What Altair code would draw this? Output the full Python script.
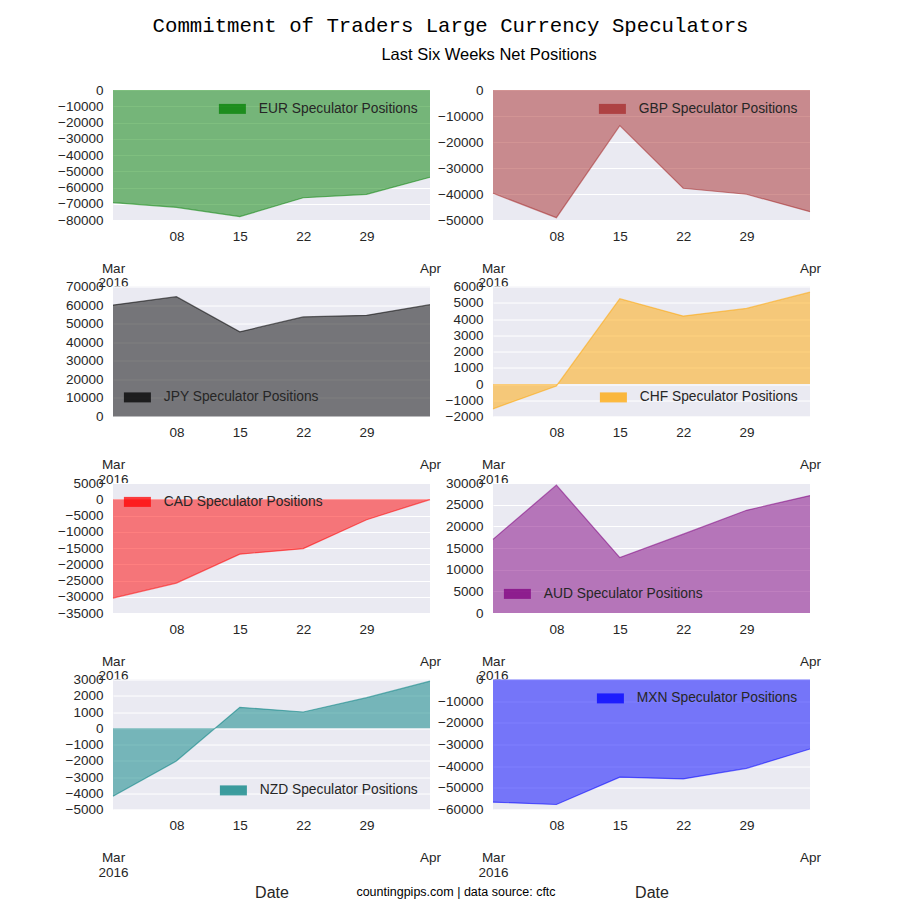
import altair as alt
import pandas as pd

# ---- data ----
dates = ["2016-03-01", "2016-03-08", "2016-03-15", "2016-03-22", "2016-03-29", "2016-04-05"]
currencies = ["EUR", "GBP", "JPY", "CHF", "CAD", "AUD", "NZD", "MXN"]
eur = [-69300, -72200, -77900, -66300, -64200, -53700]
gbp = [-39700, -49100, -13700, -37800, -40100, -46800]
jpy = [60000, 64500, 45600, 53600, 54500, 60200]
chf = [-1530, -120, 5250, 4180, 4650, 5650]
cad = [-30400, -25800, -16900, -15200, -6300, -100]
aud = [17000, 29500, 12800, 18200, 23700, 27100]
nzd = [-4180, -2020, 1290, 1000, 1880, 2900]
mxn = [-56600, -57700, -45100, -45900, -41000, -32100]
series_values = [eur, gbp, jpy, chf, cad, aud, nzd, mxn]
colors = ["green", "brown", "black", "orange", "red", "purple", "teal", "blue"]
y_ranges = [(-80000, 0, 10000), (-50000, 0, 10000), (0, 70000, 10000), (-2000, 6000, 1000),
            (-35000, 5000, 5000), (0, 30000, 5000), (-5000, 3000, 1000), (-60000, 0, 10000)]
legend_corners = ["top-right", "top-right", "bottom-left", "bottom-right",
                  "top-left", "bottom-left", "bottom-right", "top-right"]
minor_days = [(3, 8), (3, 15), (3, 22), (3, 29)]
major_days = [(3, 1), (4, 5)]
main_title = "Commitment of Traders Large Currency Speculators"
sub_title = "Last Six Weeks Net Positions"
footer = "countingpips.com | data source: cftc"

SANS = "Liberation Sans"
TXT = "#262626"
W, H = 317, 130

minor_vals = [alt.DateTime(year=2016, month=m, date=d, utc=True) for m, d in minor_days]
major_vals = [alt.DateTime(year=2016, month=m, date=d, utc=True) for m, d in major_days]
x_scale = alt.Scale(type="utc", domain=major_vals, nice=False)


def panel(i, bottom):
    cur = currencies[i]
    lo, hi, step = y_ranges[i]
    df = pd.DataFrame({"date": dates, "value": series_values[i],
                       "series": [cur + " Speculator Positions"] * len(dates)})
    common = dict(orient="bottom", labelFlush=False, labelOverlap=False, domain=False,
                  ticks=False, grid=False, labelFont=SANS, labelFontSize=13.5,
                  labelColor=TXT)
    x_minor = alt.X("date:T", scale=x_scale, title=None,
                    axis=alt.Axis(values=minor_vals,
                                  labelExpr="utcFormat(datum.value, '%d')",
                                  labelPadding=9, **common))
    xkw = {"title": "Date"} if bottom else {"title": None}
    x_major = alt.X("date:T", scale=x_scale,
                    axis=alt.Axis(values=major_vals,
                                  labelExpr="utcmonth(datum.value) == 2 ? ['Mar', '2016'] : 'Apr'",
                                  labelPadding=41, labelLineHeight=14.5,
                                  titleFont=SANS, titleFontSize=16, titleFontWeight="normal",
                                  titleColor=TXT, titlePadding=6, **common),
                    **xkw)
    y = alt.Y("value:Q",
              scale=alt.Scale(domain=[lo, hi], nice=False, zero=False),
              axis=alt.Axis(values=list(range(lo, hi + 1, step)), format="d",
                            labelPadding=10, ticks=False, domain=False, grid=True,
                            gridColor="white", gridWidth=1, labelFont=SANS,
                            labelFontSize=13.5, labelColor=TXT, labelFlush=False,
                            labelOverlap=False),
              title=None)
    base = alt.Chart(df)
    area = base.mark_area(fillOpacity=0.5, strokeWidth=0).encode(
        x=x_minor, y=y, y2=alt.datum(0),
        color=alt.Color("series:N", scale=alt.Scale(range=[colors[i]]),
                        legend=alt.Legend(title=None, orient=legend_corners[i], offset=12,
                                          padding=0, symbolType="M-1.6,-1H3.8V1H-1.6Z",
                                          symbolSize=100, symbolStrokeWidth=0,
                                          symbolOpacity=0.75, labelOffset=25,
                                          labelLimit=400, labelFont=SANS,
                                          labelFontSize=13.8, labelColor=TXT)))
    line = base.mark_line(color=colors[i], strokeOpacity=0.55, strokeWidth=1.2).encode(
        x=x_major, y=y)
    layers = [area, line]
    if bottom and i == 6:
        foot = alt.Chart(pd.DataFrame({"t": [footer]})).mark_text(
            font=SANS, fontSize=12.5, color="black", align="center", baseline="middle"
        ).encode(text="t:N", x=alt.value(343), y=alt.value(212))
        layers.append(foot)
    return alt.layer(*layers).resolve_axis(x="independent").properties(width=W, height=H)


panels = [panel(i, i >= 6) for i in range(8)]

inner = alt.concat(
    *panels, columns=2, spacing=alt.RowColnumber(row=66.5, column=63), bounds="flush",
    title=alt.TitleParams(sub_title, font=SANS, fontSize=16.5, fontWeight="normal",
                          color="black", anchor="middle", offset=20, dx=50)
).resolve_scale(color="independent", x="independent", y="independent").resolve_legend(
    color="independent")

chart = alt.vconcat(
    inner,
    title=alt.TitleParams(main_title, font="Liberation Mono", fontSize=20.7,
                          fontWeight="normal", color="black", anchor="middle", offset=10,
                          dx=11.5)
).properties(
    padding={"left": 49, "top": 6, "right": 5, "bottom": 0}
).configure_view(fill="#EAEAF2", strokeWidth=0)

chart.save("out.html", embed_options={"renderer": "svg", "actions": False})
